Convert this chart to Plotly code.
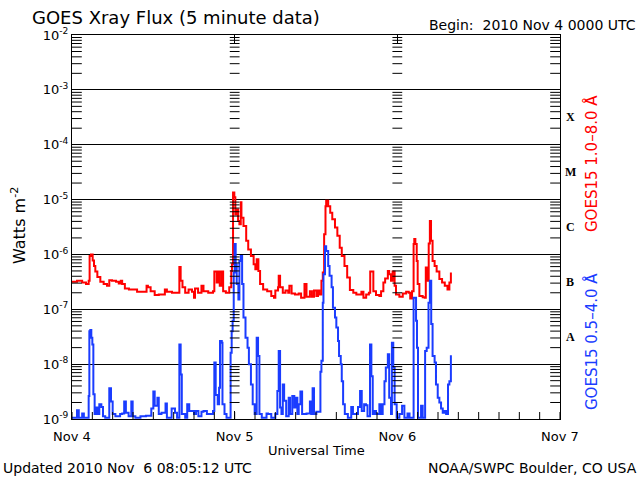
import pandas as pd
import plotly.graph_objects as go

# ---------------- data (hours after 2010 Nov 4 00:00 UTC, flux in W m^-2) ----------------
start = pd.Timestamp("2010-11-04 00:00")

long_hours = [0, 0.74, 1.5, 2.07, 2.46, 2.6, 2.8, 3.05, 3.25, 3.44, 3.74, 4.18, 4.67, 5.16, 5.5, 5.9,
              6.5, 6.9, 7.2, 7.4, 7.8, 8.4, 9.3, 9.6, 10.7, 11.0, 11.2, 11.6, 12.2, 12.8, 13.4, 13.7,
              14.0, 14.75, 15.4, 15.84, 16.03, 16.3, 16.7, 17.2, 17.7, 18.0, 18.15, 18.6, 19.1, 19.4,
              20.1, 20.8, 21.0, 21.35, 21.6, 21.8, 22.1, 22.3, 22.7, 23.2, 23.5, 23.6, 23.76, 23.95,
              24.1, 24.3, 24.5, 24.7, 24.9, 25.0, 25.3, 25.7, 26.0, 26.4, 26.8, 27.05, 27.25, 27.5,
              27.75, 28.2, 28.8, 29.4, 29.8, 30.0, 30.4, 30.5, 30.7, 31.1, 31.5, 31.9, 32.07, 32.4,
              32.9, 33.45, 33.8, 34.3, 34.6, 35.1, 35.4, 35.7, 36.05, 36.3, 36.5, 36.8, 37.0, 37.2,
              37.4, 37.5, 37.8, 38.1, 38.4, 38.8, 39.15, 39.5, 39.8, 40.2, 40.6, 41.0, 41.5, 41.95,
              42.4, 42.7, 43.0, 43.4, 43.8, 44.0, 44.27, 44.46, 44.85, 45.35, 45.6, 45.94, 46.2,
              46.6, 46.8, 47.07, 47.3, 47.6, 47.8, 48.3, 48.8, 49.3, 49.68, 49.9, 50.17, 50.4, 50.5,
              50.66, 50.86, 51.0, 51.25, 51.74, 52.04, 52.2, 52.5, 52.63, 52.8, 52.97, 53.2, 53.5,
              53.8, 54.2, 54.6, 55.0, 55.4, 55.68, 55.9]
long_flux = [3.16e-7, 3.31e-7, 3.09e-7, 2.88e-7, 3.31e-7, 9.33e-7, 1.0e-6, 7.76e-7, 6.17e-7, 4.90e-7,
             3.89e-7, 3.16e-7, 2.88e-7, 2.69e-7, 3.39e-7, 3.31e-7, 3.16e-7, 2.95e-7, 3.31e-7, 2.88e-7,
             2.40e-7, 2.29e-7, 2.29e-7, 2.09e-7, 2.09e-7, 2.69e-7, 2.51e-7, 2.14e-7, 1.82e-7, 1.86e-7,
             1.86e-7, 2.29e-7, 2.09e-7, 2.0e-7, 2.0e-7, 5.89e-7, 3.31e-7, 2.51e-7, 2.0e-7, 2.29e-7,
             2.09e-7, 1.62e-7, 2.40e-7, 2.0e-7, 2.69e-7, 2.14e-7, 2.0e-7, 2.14e-7, 4.90e-7, 3.09e-7,
             4.90e-7, 2.69e-7, 4.90e-7, 2.14e-7, 2.0e-7, 2.51e-7, 5.01e-7, 6.61e-7, 1.35e-5, 1.10e-5,
             5.37e-6, 6.61e-6, 4.07e-6, 3.55e-6, 8.91e-6, 4.68e-6, 3.31e-6, 1.78e-6, 1.23e-6, 9.33e-7,
             6.61e-7, 5.37e-7, 8.13e-7, 5.01e-7, 2.88e-7, 2.29e-7, 2.14e-7, 1.74e-7, 1.62e-7, 2.19e-7,
             2.51e-7, 4.07e-7, 2.51e-7, 2.0e-7, 2.19e-7, 2.0e-7, 2.69e-7, 1.95e-7, 1.86e-7, 1.95e-7,
             1.62e-7, 2.88e-7, 1.70e-7, 2.14e-7, 1.70e-7, 2.19e-7, 1.74e-7, 2.19e-7, 1.86e-7, 3.31e-7,
             4.68e-7, 2.34e-6, 7.59e-6, 9.55e-6, 7.59e-6, 5.75e-6, 4.37e-6, 3.09e-6, 2.19e-6, 1.32e-6,
             9.33e-7, 6.17e-7, 3.80e-7, 2.24e-7, 2.0e-7, 1.86e-7, 1.86e-7, 2.09e-7, 1.62e-7, 1.86e-7,
             2.0e-7, 4.90e-7, 4.90e-7, 2.14e-7, 1.82e-7, 1.74e-7, 2.14e-7, 3.09e-7, 3.63e-7, 5.01e-7,
             4.37e-7, 3.31e-7, 4.90e-7, 2.69e-7, 1.86e-7, 1.70e-7, 1.95e-7, 2.09e-7, 2.0e-7, 1.58e-7,
             2.14e-7, 1.55e-6, 1.91e-6, 1.55e-6, 7.59e-7, 2.88e-7, 1.74e-7, 1.66e-7, 1.62e-7, 5.75e-7,
             3.31e-7, 1.58e-6, 4.07e-6, 1.78e-6, 7.59e-7, 6.17e-7, 4.90e-7, 3.55e-7, 3.09e-7, 2.69e-7,
             2.29e-7, 3.09e-7, 4.68e-7]

short_hours = [0, 0.74, 1.0, 1.5, 1.75, 2.36, 2.46, 2.56, 2.7, 2.85, 3.0, 3.15, 3.34, 3.54, 3.74, 4.03,
               4.33, 4.57, 4.9, 5.5, 5.75, 6.0, 6.4, 7.1, 7.4, 7.7, 7.95, 8.35, 8.75, 8.95, 9.35, 10.1,
               10.9, 11.7, 12.0, 12.2, 12.6, 12.8, 13.2, 13.8, 14.0, 14.5, 14.7, 15.2, 15.5, 15.84,
               16.03, 16.2, 16.7, 17.0, 17.3, 17.66, 18.0, 18.3, 18.65, 19.1, 19.4, 19.9, 20.4, 20.8,
               21.0, 21.2, 21.5, 21.7, 21.84, 22.1, 22.2, 22.5, 22.8, 23.2, 23.4, 23.56, 23.7, 23.86,
               24.0, 24.15, 24.3, 24.55, 24.7, 24.9, 25.1, 25.3, 25.6, 25.9, 26.1, 26.4, 26.66, 26.95,
               27.25, 27.45, 27.65, 28.0, 28.7, 28.92, 29.4, 30.0, 30.3, 30.5, 30.7, 30.9, 31.1, 31.3,
               31.6, 31.97, 32.17, 32.5, 32.8, 33.05, 33.25, 33.45, 33.7, 33.95, 34.6, 35.1, 35.3,
               35.5, 35.7, 36.05, 36.4, 36.65, 36.8, 37.0, 37.1, 37.33, 37.5, 37.8, 38.0, 38.3, 38.5,
               38.8, 39.0, 39.25, 39.4, 39.65, 39.8, 40.0, 40.25, 40.7, 41.2, 41.45, 41.8, 42.2, 42.5,
               42.75, 43.1, 43.38, 43.6, 43.97, 44.17, 44.37, 44.6, 44.85, 45.35, 45.6, 45.84, 46.1,
               46.3, 46.6, 46.8, 47.07, 47.2, 47.4, 47.6, 47.9, 48.3, 48.7, 49.04, 49.5, 49.8, 50.17,
               50.4, 50.6, 50.76, 50.9, 51.05, 51.5, 51.74, 52.1, 52.33, 52.6, 52.8, 53.0, 53.2, 53.5,
               53.7, 53.96, 54.2, 54.45, 54.7, 54.94, 55.2, 55.48, 55.68, 55.9]
short_flux = [1.05e-9, 1.45e-9, 1.05e-9, 1.26e-9, 1.05e-9, 1.05e-9, 2.63e-9, 3.98e-8, 4.17e-8, 3.02e-8,
              2.29e-8, 2.82e-9, 1.23e-9, 1.62e-9, 1.23e-9, 1.86e-9, 1.66e-9, 1.12e-9, 1.05e-9, 3.63e-9,
              2.09e-9, 1.23e-9, 1.12e-9, 1.23e-9, 1.26e-9, 2.09e-9, 1.3e-9, 1.12e-9, 2.09e-9, 1.12e-9,
              1.05e-9, 1.12e-9, 1.15e-9, 1.55e-9, 3.16e-9, 1.74e-9, 2.45e-9, 1.23e-9, 1.3e-9, 1.91e-9,
              1.05e-9, 1.05e-9, 1.55e-9, 1.3e-9, 1.05e-9, 2.29e-8, 6.46e-9, 1.23e-9, 1.05e-9, 1.86e-9,
              1.4e-9, 1.4e-9, 1.23e-9, 1.4e-9, 1.12e-9, 1.35e-9, 1.4e-9, 1.23e-9, 1.23e-9, 1.4e-9,
              1.07e-8, 2.75e-9, 1.86e-9, 3.72e-9, 2.63e-8, 2.45e-8, 1.86e-9, 1.23e-9, 1.05e-9, 1.05e-9,
              1.62e-8, 3.98e-8, 6.17e-8, 4.68e-7, 1.55e-6, 6.61e-7, 2.88e-7, 1.51e-7, 7.59e-7, 9.33e-7,
              2.88e-7, 7.08e-8, 3.02e-8, 2.0e-8, 1.0e-8, 4.27e-9, 1.86e-9, 1.23e-9, 3.02e-8, 1.41e-8,
              1.23e-9, 1.05e-9, 1.26e-9, 1.23e-9, 1.05e-9, 1.23e-9, 3.24e-9, 1.74e-8, 1.62e-9, 1.23e-9,
              4.27e-9, 2.14e-9, 1.12e-9, 2.45e-9, 1.23e-9, 2.63e-9, 1.62e-9, 2.45e-9, 1.23e-9, 1.86e-9,
              3.16e-9, 1.23e-9, 1.26e-9, 2.09e-9, 1.23e-9, 3.63e-9, 1.23e-9, 1.35e-9, 1.35e-9, 7.24e-9,
              1.15e-8, 1.32e-7, 4.37e-7, 1.41e-6, 1.15e-6, 6.17e-7, 4.07e-7, 2.51e-7, 1.07e-7, 7.08e-8,
              4.68e-8, 2.63e-8, 1.41e-8, 1.0e-8, 4.9e-9, 1.86e-9, 1.23e-9, 1.05e-9, 1.66e-9, 1.23e-9,
              1.23e-9, 1.66e-9, 3.24e-9, 1.4e-9, 1.86e-9, 1.78e-9, 1.12e-9, 2.29e-8, 6.03e-9, 1.23e-9,
              1.4e-9, 1.23e-9, 1.86e-9, 1.23e-9, 1.86e-9, 4.9e-9, 8.71e-9, 1.51e-8, 2.45e-9, 1.23e-9,
              2.45e-8, 8.71e-9, 1.86e-9, 1.05e-9, 1.23e-9, 1.74e-9, 1.05e-9, 1.26e-9, 1.05e-9, 1.05e-9,
              1.62e-7, 1.62e-7, 6.17e-8, 2.0e-8, 1.05e-9, 1.74e-9, 1.05e-9, 1.74e-8, 2.0e-8, 1.32e-7,
              3.31e-7, 5.37e-8, 1.41e-8, 1.07e-8, 4.27e-9, 2.45e-9, 2.0e-9, 1.55e-9, 1.3e-9, 1.4e-9,
              1.23e-9, 4.27e-9, 4.9e-9, 1.45e-8]

day_labels = ["Nov 4", "Nov 5", "Nov 6", "Nov 7"]
decade_exponents = [-9, -8, -7, -6, -5, -4, -3, -2]
flare_classes = ["A", "B", "C", "M", "X"]          # centred in decades 1e-8..1e-3
flare_class_centres = [-7.5, -6.5, -5.5, -4.5, -3.5]

RED = "#ff0000"
BLUE = "#1a3cff"
FONT = "DejaVu Sans"

# ---------------- helpers ----------------
W, H = 640, 480
L, R, T, B = 72, 80, 35, 61
PW, PH = W - L - R, H - T - B


def px(x):  # pixel -> paper x
    return (x - L) / PW


def py(y):  # pixel -> paper y
    return (H - B - y) / PH


def times(hours):
    return [start + pd.Timedelta(hours=h) for h in hours]


day_times = [start + pd.Timedelta(days=i) for i in range(4)]
decades = [10.0 ** e for e in decade_exponents]
minor_vals = [k * 10.0 ** e for e in decade_exponents[:-1] for k in range(2, 10)]
three_hour_ticks = [start + pd.Timedelta(hours=3 * i) for i in range(25)]

fig = go.Figure()

fig.add_trace(go.Scatter(x=times(long_hours), y=long_flux, mode="lines", line_shape="hv",
                         line=dict(color=RED, width=2), hoverinfo="skip", showlegend=False))
fig.add_trace(go.Scatter(x=times(short_hours), y=short_flux, mode="lines", line_shape="hv",
                         line=dict(color=BLUE, width=2), hoverinfo="skip", showlegend=False))

tick_line = dict(color="black", width=1)
# minor log ticks along the two interior day lines (centred on the line)
inner_days = day_times[1:3]
fig.add_trace(go.Scatter(
    x=[d for d in inner_days for _ in minor_vals],
    y=[v for _ in inner_days for v in minor_vals],
    mode="markers", marker=dict(symbol="line-ew", size=7, line=tick_line),
    hoverinfo="skip", showlegend=False, cliponaxis=False))
# minor log ticks on left and right frame edges (half clipped -> inside ticks)
edge_days = [day_times[0], day_times[-1]]
fig.add_trace(go.Scatter(
    x=[d for d in edge_days for _ in minor_vals],
    y=[v for _ in edge_days for v in minor_vals],
    mode="markers", marker=dict(symbol="line-ew", size=14, line=tick_line),
    hoverinfo="skip", showlegend=False, cliponaxis=True))
# 3-hourly ticks on bottom and top frame edges
edge_flux = [decades[0], decades[-1]]
fig.add_trace(go.Scatter(
    x=[t for _ in edge_flux for t in three_hour_ticks],
    y=[f for f in edge_flux for _ in three_hour_ticks],
    mode="markers", marker=dict(symbol="line-ns", size=10, line=tick_line),
    hoverinfo="skip", showlegend=False, cliponaxis=True))

fig.update_layout(
    width=W, height=H, margin=dict(l=L, r=R, t=T, b=B, autoexpand=False),
    paper_bgcolor="white", plot_bgcolor="white",
    font=dict(family=FONT, color="black"),
    xaxis=dict(type="date", range=[day_times[0], day_times[-1]],
               tickmode="array", tickvals=day_times, ticktext=day_labels,
               ticks="inside", ticklen=8, tickcolor="black", tickwidth=1,
               showline=True, linecolor="black", linewidth=1, mirror="allticks",
               showgrid=False, zeroline=False,
               tickfont=dict(size=13, color="black", family=FONT),
               ticklabelstandoff=5),
    yaxis=dict(type="log", range=[-9, -2],
               tickmode="array", tickvals=decades,
               ticktext=["10<sup>-%d</sup>" % (-e) for e in decade_exponents],
               ticks="inside", ticklen=7, tickcolor="black",
               showline=True, linecolor="black", linewidth=1, mirror="allticks",
               showgrid=True, gridcolor="black", gridwidth=1, zeroline=False,
               tickfont=dict(size=13, color="black", family=FONT)),
)

ann = []
ann.append(dict(text="GOES Xray Flux (5 minute data)", x=px(30), y=py(17), xanchor="left",
                yanchor="middle", font=dict(size=18)))
ann.append(dict(text="Begin:  2010 Nov 4 0000 UTC", x=px(638), y=py(25), xanchor="right",
                yanchor="middle", font=dict(size=14)))
ann.append(dict(text="Watts m<sup>-2</sup>", x=px(18), y=py(226), textangle=-90,
                xanchor="center", yanchor="middle", font=dict(size=16)))
ann.append(dict(text="Universal Time", x=px(316), y=py(450), xanchor="center",
                yanchor="middle", font=dict(size=13)))
ann.append(dict(text="Updated 2010 Nov  6 08:05:12 UTC", x=px(1), y=py(468), xanchor="left",
                yanchor="middle", font=dict(size=14)))
ann.append(dict(text="NOAA/SWPC Boulder, CO USA", x=px(639), y=py(468), xanchor="right",
                yanchor="middle", font=dict(size=14)))
ann.append(dict(text="GOES15 1.0\u20138.0 \u00c5", x=px(591), y=py(164), textangle=-90,
                xanchor="center", yanchor="middle", font=dict(size=15, color=RED)))
ann.append(dict(text="GOES15 0.5\u20134.0 \u00c5", x=px(591), y=py(342), textangle=-90,
                xanchor="center", yanchor="middle", font=dict(size=15, color=BLUE)))
for lab, c in zip(flare_classes, flare_class_centres):
    ann.append(dict(text="<b>%s</b>" % lab, x=px(570), xref="paper", y=c, yref="y",
                    xanchor="center", yanchor="middle",
                    font=dict(size=12, family="Liberation Serif")))

for a in ann:
    a.setdefault("xref", "paper")
    a.setdefault("yref", "paper")
    a["showarrow"] = False
fig.update_layout(annotations=ann)

fig.write_html("out.html", config={"displayModeBar": False},
               post_script="document.body.style.margin='0px';")
